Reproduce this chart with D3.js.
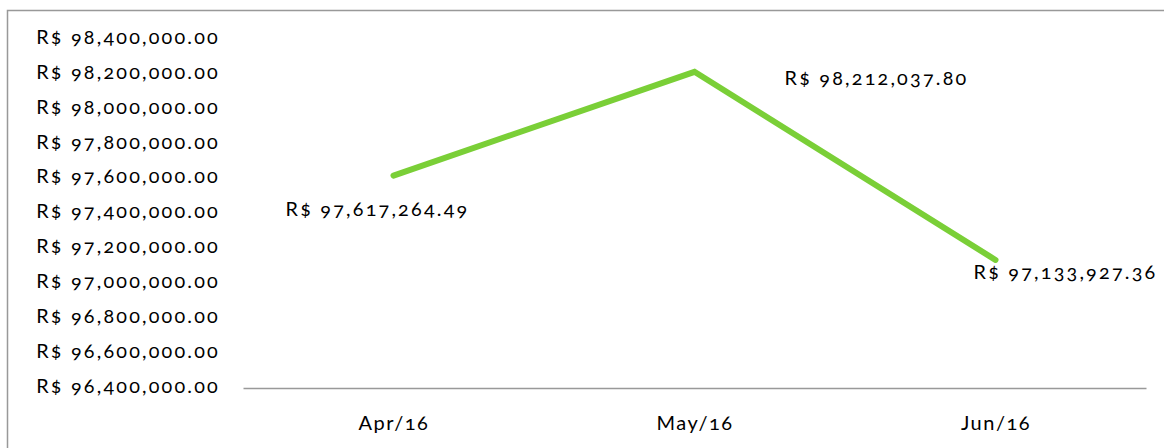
<!DOCTYPE html>
<html>
<head>
<meta charset="utf-8">
<script src="https://cdn.jsdelivr.net/npm/d3@7"></script>
<style>
  body { margin: 0; background: #fff; }
  svg text { font-family: Lato, "Open Sans", sans-serif; font-variant-numeric: oldstyle-nums; font-feature-settings: "onum" 1; fill: #000; letter-spacing: 2.2px; }
</style>
</head>
<body>
<div id="chart"></div>
<script>
const months = ['Apr/16', 'May/16', 'Jun/16'];
const values = [97617264.49, 98212037.80, 97133927.36];
const yTicks = [96400000, 96600000, 96800000, 97000000, 97200000, 97400000,
                97600000, 97800000, 98000000, 98200000, 98400000];

const W = 1164, H = 448;
const margin = { top: 39, right: 18, bottom: 60, left: 243 };
const width = W - margin.left - margin.right;
const height = H - margin.top - margin.bottom;

const svg = d3.select('#chart').append('svg')
  .attr('width', W)
  .attr('height', H);

// outer frame (only top and left edges fall inside the picture)
svg.append('rect')
  .attr('x', 7.5).attr('y', 10.5)
  .attr('width', W + 10).attr('height', H + 10)
  .attr('fill', 'none')
  .attr('stroke', '#999')
  .attr('stroke-width', 1.5);

const g = svg.append('g')
  .attr('transform', `translate(${margin.left},${margin.top})`);

const x = d3.scalePoint().domain(months).range([0, width]).padding(0.5);
const y = d3.scaleLinear().domain([96400000, 98400000]).range([height, 0]);

const fmt = v => 'R$ ' + d3.format(',.2f')(v);

// y axis labels
const yAxis = g.append('g')
  .call(d3.axisLeft(y).tickValues(yTicks).tickSize(0).tickPadding(23).tickFormat(fmt));
yAxis.select('.domain').remove();
yAxis.selectAll('text')
  .style('font-size', '19.8px')
  .attr('dy', '0.22em');

// x axis
const xAxis = g.append('g')
  .attr('transform', `translate(0,${height})`)
  .call(d3.axisBottom(x).tickSize(0).tickPadding(28));
xAxis.select('.domain')
  .attr('stroke', '#999')
  .attr('stroke-width', 1.5);
xAxis.selectAll('text')
  .style('font-size', '20px')
  .style('letter-spacing', '1.5px');

// the line
const line = d3.line()
  .x((d, i) => x(months[i]))
  .y(d => y(d));

g.append('path')
  .datum(values)
  .attr('fill', 'none')
  .attr('stroke', '#7acf37')
  .attr('stroke-width', 6)
  .attr('stroke-linecap', 'round')
  .attr('stroke-linejoin', 'miter')
  .attr('d', line);

// data labels, offset from each point like the original
const labelOffsets = [[-16, 33], [182, 6], [70, 12]];
g.selectAll('.data-label')
  .data(values)
  .enter()
  .append('text')
  .attr('class', 'data-label')
  .attr('x', (d, i) => x(months[i]) + labelOffsets[i][0])
  .attr('y', (d, i) => y(d) + labelOffsets[i][1])
  .attr('dy', '0.35em')
  .attr('text-anchor', 'middle')
  .style('font-size', '19.8px')
  .text(fmt);
</script>
</body>
</html>
